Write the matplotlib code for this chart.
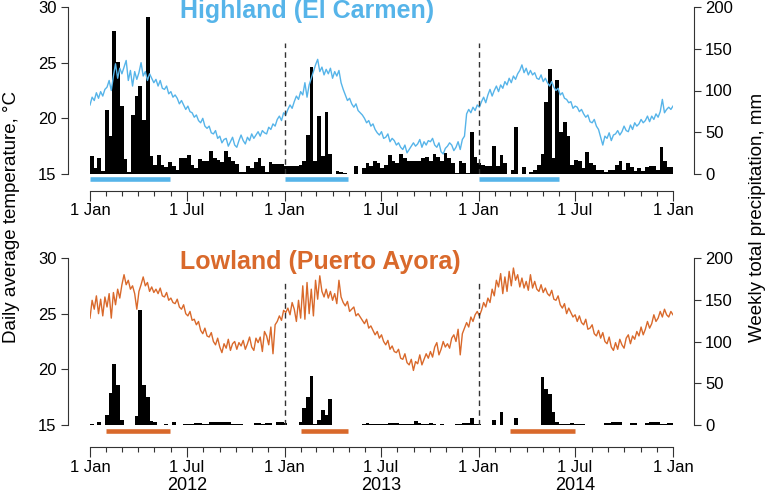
import numpy as np
import matplotlib
matplotlib.use("Agg")
import matplotlib.pyplot as plt
import matplotlib.dates as mdates
import matplotlib.transforms as mtransforms

plt.rcParams['font.family'] = ['Liberation Sans', 'DejaVu Sans']

# weekly total precipitation (mm), weeks starting 1 Jan 2012
hl_rain = [21, 7, 19, 4, 77, 45, 171, 134, 81, 18, 2, 71, 93, 105, 65, 188, 21, 11, 23, 11,
           8, 14, 9, 5, 19, 19, 23, 11, 7, 18, 16, 16, 28, 19, 17, 14, 28, 20, 15, 12,
           2, 2, 9, 7, 14, 19, 9, 2, 14, 12, 12, 12, 10,
           9, 9, 9, 11, 15, 47, 128, 15, 69, 21, 74, 24, 0, 3, 2, 1, 0, 0, 10, 0,
           7, 13, 9, 16, 13, 7, 11, 23, 16, 13, 24, 19, 16, 16, 16, 15, 19, 20, 16, 24,
           20, 16, 25, 19, 13, 1, 15, 13, 1, 50, 20, 13,
           11, 9, 9, 34, 10, 23, 13, 0, 5, 56, 0, 8, 0, 2, 5, 11, 24, 86, 126, 19,
           112, 50, 62, 45, 11, 17, 15, 7, 26, 13, 11, 5, 5, 2, 5, 5, 11, 15, 5, 13,
           8, 4, 7, 4, 8, 10, 10, 5, 32, 15, 8, 8]
ll_rain = [1, 0, 3, 0, 12, 38, 73, 48, 6, 0, 0, 0, 11, 138, 48, 34, 5, 3, 0, 0,
           1, 0, 4, 0, 0, 1, 1, 1, 2, 2, 1, 1, 4, 4, 4, 3, 3, 3, 1, 1,
           1, 0, 0, 0, 2, 2, 1, 2, 2, 0, 3, 3, 2,
           0, 0, 0, 3, 20, 34, 59, 1, 6, 18, 12, 31, 0, 0, 0, 0, 0, 0, 0, 0,
           1, 2, 1, 1, 1, 1, 1, 2, 2, 2, 1, 1, 1, 1, 5, 2, 1, 1, 2, 1,
           0, 1, 0, 0, 0, 1, 1, 2, 2, 8, 1, 1,
           0, 0, 0, 6, 0, 16, 0, 0, 0, 8, 0, 0, 0, 0, 0, 0, 57, 43, 37, 15,
           3, 1, 1, 1, 2, 1, 1, 1, 0, 0, 0, 0, 0, 2, 2, 4, 3, 3, 0, 0,
           2, 2, 0, 0, 2, 4, 3, 3, 1, 1, 2, 2]

# daily average temperature (C), read every 4 days from 1 Jan 2012
hl_temp = [21.2, 21.9, 21.6, 22.3, 21.8, 22.4, 22.0, 22.6,
           22.8, 23.4, 22.5, 23.8, 24.9, 23.6, 24.5, 24.0,
           24.6, 25.2, 23.4, 24.3, 22.9, 24.2, 23.5, 24.1,
           25.0, 23.8, 24.2, 23.4, 24.0, 23.6, 23.2, 23.5,
           22.9, 23.4, 22.7, 22.6, 22.9, 22.2, 22.4, 21.9,
           22.1, 21.8, 21.3, 21.6, 21.2, 20.8, 21.1, 20.6,
           20.5, 20.1, 20.3, 19.8, 19.6, 20.0, 19.3, 19.1,
           19.3, 18.7, 18.6, 18.9, 18.2, 18.4, 17.8, 18.1,
           18.2, 17.5, 17.9, 18.3, 17.6, 17.4, 18.0, 18.5,
           18.0, 17.7, 18.3, 18.0, 18.6, 18.2, 18.5, 18.8,
           18.4, 18.9, 18.7, 18.6, 19.2, 19.0, 19.5, 19.3,
           19.9, 20.2, 19.8, 20.5, 20.3, 20.8, 21.2, 20.9,
           21.5, 22.0, 21.7, 22.4, 22.1, 23.2, 21.9, 23.0,
           23.6, 24.2, 24.8, 25.3, 24.2, 24.6, 23.9, 24.4,
           24.0, 24.5, 23.6, 24.2, 23.8, 24.3, 23.2, 22.6,
           22.1, 21.6, 21.8, 21.3, 21.0, 21.3, 20.7, 20.5,
           20.3, 20.0, 19.6, 19.8, 19.3, 19.5, 19.0, 18.7,
           18.5, 18.8, 18.2, 18.3, 18.6, 17.9, 18.2, 18.0,
           17.6, 17.8, 17.4, 17.2, 17.6, 16.9, 17.2, 17.5,
           17.8, 17.5, 17.7, 18.1, 17.4, 17.9, 17.6, 18.0,
           17.9, 18.2, 17.6, 17.4, 17.8, 17.0, 16.8, 17.3,
           17.5, 17.8, 17.6, 17.1, 17.4, 17.9, 17.2, 18.1,
           18.4, 20.4, 20.8, 20.5, 21.0, 20.7, 21.2, 21.0,
           21.5, 21.9, 21.4, 22.1, 22.6, 22.0, 22.5, 22.9,
           22.4, 23.0, 22.7, 23.3, 23.0, 23.6, 23.2, 23.8,
           23.5, 24.0, 24.3, 24.8, 24.1, 24.5, 23.9, 24.3,
           23.9, 24.1, 23.6, 23.5, 23.9, 23.3, 23.6, 23.2,
           22.9, 23.3, 22.8, 22.5, 22.7, 22.1, 22.3, 21.8,
           21.7, 21.4, 21.5, 20.9, 21.1, 21.0, 20.6, 20.8,
           20.4, 20.1, 20.3, 19.7, 19.6, 19.9, 19.3, 19.0,
           18.3, 17.6, 18.4, 18.2, 18.7, 18.0, 18.5, 18.6,
           18.9, 18.5, 18.8, 19.3, 18.9, 18.8, 19.4, 19.0,
           19.6, 19.3, 19.5, 19.9, 19.6, 19.8, 20.2, 19.7,
           20.2, 19.9, 20.4, 20.1, 20.6, 21.7, 20.5, 20.8,
           21.0, 20.8, 21.1]
ll_temp = [24.6, 26.2, 25.4, 26.6, 25.0, 26.3, 24.8, 26.5,
           25.6, 26.8, 24.6, 26.9, 25.8, 27.2, 26.4, 27.6,
           28.5, 27.6, 28.0, 27.2, 27.5, 26.8, 25.4, 27.0,
           27.6, 28.3, 27.5, 27.8, 27.0, 27.4, 26.9, 27.2,
           26.8, 27.3, 26.6, 26.5, 26.9, 26.2, 26.4, 26.0,
           25.9, 26.3, 25.6, 25.4, 25.8, 25.0, 24.8, 25.2,
           24.4, 24.5, 24.0, 24.3, 23.5, 23.2, 23.7, 23.0,
           22.9, 23.3, 22.5, 22.2, 22.8, 22.0, 21.5, 22.3,
           21.9, 22.7, 21.7, 22.3, 22.5, 21.8, 22.4, 22.1,
           22.6, 21.8, 22.3, 22.9, 22.0, 21.7, 22.8, 22.4,
           22.9, 21.6, 23.4, 23.0, 22.2, 23.8, 21.4, 24.0,
           24.3, 24.8, 24.4, 25.3, 25.1, 25.5, 24.9, 26.0,
           25.4, 24.3, 26.2, 24.6, 27.5, 24.5, 27.8, 25.0,
           27.2, 24.8, 28.0, 26.3, 28.4, 27.0, 26.5, 27.2,
           26.4, 27.0, 26.2, 26.8, 25.9, 28.0, 26.5, 26.0,
           25.7, 26.1, 25.2, 25.4, 25.6, 24.8, 25.0, 24.7,
           24.4, 24.1, 24.5, 23.7, 23.9, 23.5, 23.1, 23.4,
           22.8, 23.1, 22.5, 22.2, 22.6, 21.8, 22.1, 21.6,
           21.5, 21.8, 21.0, 20.9, 21.4, 20.6, 20.4, 20.9,
           19.9, 20.7, 20.5, 21.3, 20.4, 20.9, 21.4, 21.0,
           21.6, 21.1, 22.0, 22.4, 21.3, 21.8, 22.5, 22.0,
           22.3, 21.9, 22.8, 23.1, 22.5, 23.6, 21.3, 23.2,
           23.7, 24.2, 23.8, 24.7, 24.3, 24.9, 25.2, 24.8,
           25.3, 26.0, 25.6, 26.4, 26.0, 27.2, 26.6, 28.0,
           27.4, 28.6, 26.8, 28.3, 27.0, 28.8, 27.5, 29.1,
           28.0, 28.5, 27.4, 28.2, 27.3, 27.9, 27.1, 28.5,
           27.3, 27.9, 27.2, 27.0, 27.6, 26.9, 27.3, 26.8,
           26.6, 27.1, 26.3, 26.2, 26.6, 25.8, 25.5, 25.9,
           25.0, 25.5, 25.1, 24.7, 24.9, 24.3, 24.8, 24.2,
           24.0, 24.5, 23.6, 23.7, 24.0, 23.2, 23.0, 23.5,
           22.8, 23.3, 22.5, 22.3, 22.9, 22.0, 21.7, 22.4,
           21.8, 22.7, 22.2, 21.9, 22.8, 23.1, 22.3, 23.0,
           22.7, 23.4, 23.0, 23.8, 23.1, 23.6, 24.3, 23.7,
           24.1, 24.9, 24.3, 24.6, 25.2, 24.7, 25.4, 24.9,
           24.7, 25.2, 24.9]

hl_seasons = [('2012-01-01', '2012-05-31'), ('2013-01-01', '2013-04-30'), ('2014-01-01', '2014-05-31')]
ll_seasons = [('2012-01-31', '2012-05-31'), ('2013-01-31', '2013-04-30'), ('2014-03-01', '2014-06-30')]

years = ['2012', '2013', '2014']
blue = '#56B4E9'
orange = '#D9692B'
grey = '#333333'

start = np.datetime64('2012-01-01')
end = np.datetime64('2015-01-01')
x0 = mdates.date2num(start)
x1 = mdates.date2num(end)
week_x = x0 + 7 * np.arange(len(hl_rain))
temp_x = x0 + 4 * np.arange(len(hl_temp))
major = [mdates.date2num(np.datetime64(d)) for d in
         ['2012-01-01', '2012-07-01', '2013-01-01', '2013-07-01', '2014-01-01', '2014-07-01', '2015-01-01']]
minor = mdates.date2num(np.arange('2012-01', '2015-02', dtype='datetime64[M]').astype('datetime64[D]'))

W, H = 771, 496
fig = plt.figure(figsize=(W / 100, H / 100), dpi=100)


def panel(top, bottom, rain, temp, seasons, color, title, title_y, dash_top, bar_y, axis_off):
    rect = [90 / W, 1 - bottom / H, 583 / W, (bottom - top) / H]
    axp = fig.add_axes(rect)
    axp.bar(week_x, rain, width=7, align='edge', color='black', linewidth=0)
    axp.set_ylim(0, 200)
    axp.set_xlim(x0, x1)
    for s in ['left', 'top']:
        axp.spines[s].set_visible(False)
    axp.spines['right'].set_bounds(0, 200)
    axp.spines['right'].set_position(('outward', 15))
    axp.spines['bottom'].set_position(('outward', axis_off))
    axp.spines['bottom'].set_bounds(x0, x1)
    axp.yaxis.tick_right()
    axp.set_yticks([0, 50, 100, 150, 200])
    axp.set_xticks(major)
    axp.set_xticklabels(['1 Jan', '1 Jul'] * 3 + ['1 Jan'])
    axp.set_xticks(minor, minor=True)
    axp.tick_params(axis='x', which='major', length=7, width=0.8, color=grey, labelsize=12, pad=2)
    axp.tick_params(axis='x', which='minor', length=3.5, width=0.8, color=grey)
    axp.tick_params(axis='y', length=5, width=0.8, color=grey, labelsize=12, pad=3)
    for s in ['right', 'bottom']:
        axp.spines[s].set_color(grey)
        axp.spines[s].set_linewidth(0.8)

    axt = fig.add_axes(rect, sharex=axp)
    axt.patch.set_visible(False)
    axt.plot(temp_x, temp, color=color, lw=1)
    axt.set_ylim(15, 30)
    for s in ['right', 'top', 'bottom']:
        axt.spines[s].set_visible(False)
    axt.spines['left'].set_bounds(15, 30)
    axt.spines['left'].set_position(('outward', 16))
    axt.spines['left'].set_color(grey)
    axt.spines['left'].set_linewidth(0.8)
    axt.set_yticks([15, 20, 25, 30])
    axt.tick_params(axis='y', length=5, width=0.8, color=grey, labelsize=12, pad=3)
    axt.tick_params(axis='x', which='both', bottom=False, labelbottom=False)

    for d in ['2013-01-01', '2014-01-01']:
        xd = mdates.date2num(np.datetime64(d))
        axt.vlines(xd, 15, dash_top, colors=grey, linestyles=(0, (4, 3)), lw=1)
    for a, b in seasons:
        axt.hlines(bar_y, mdates.date2num(np.datetime64(a)), mdates.date2num(np.datetime64(b)),
                   colors=color, lw=3.3, clip_on=False)
    fig.text(180 / W, 1 - title_y / H, title, color=color, fontsize=18, fontweight='bold',
             ha='left', va='center')
    return axp


panel(7, 174, hl_rain, hl_temp, hl_seasons, blue, 'Highland (El Carmen)', 11, 26.8, 14.55, 12)
axb = panel(258, 425, ll_rain, ll_temp, ll_seasons, orange, 'Lowland (Puerto Ayora)', 262, 27.9, 14.46, 16)

trans = mtransforms.blended_transform_factory(axb.transData, fig.transFigure)
for y in years:
    xm = mdates.date2num(np.datetime64(y + '-07-01'))
    axb.text(xm, 1 - 486 / H, y, transform=trans, ha='center', va='center', fontsize=13)

fig.text(12 / W, 1 - 217 / H, 'Daily average temperature, °C', rotation=90,
         ha='center', va='center', fontsize=13.5)
fig.text(758 / W, 1 - 217 / H, 'Weekly total precipitation, mm', rotation=90,
         ha='center', va='center', fontsize=13.5)

fig.savefig('out.png', dpi=100)
